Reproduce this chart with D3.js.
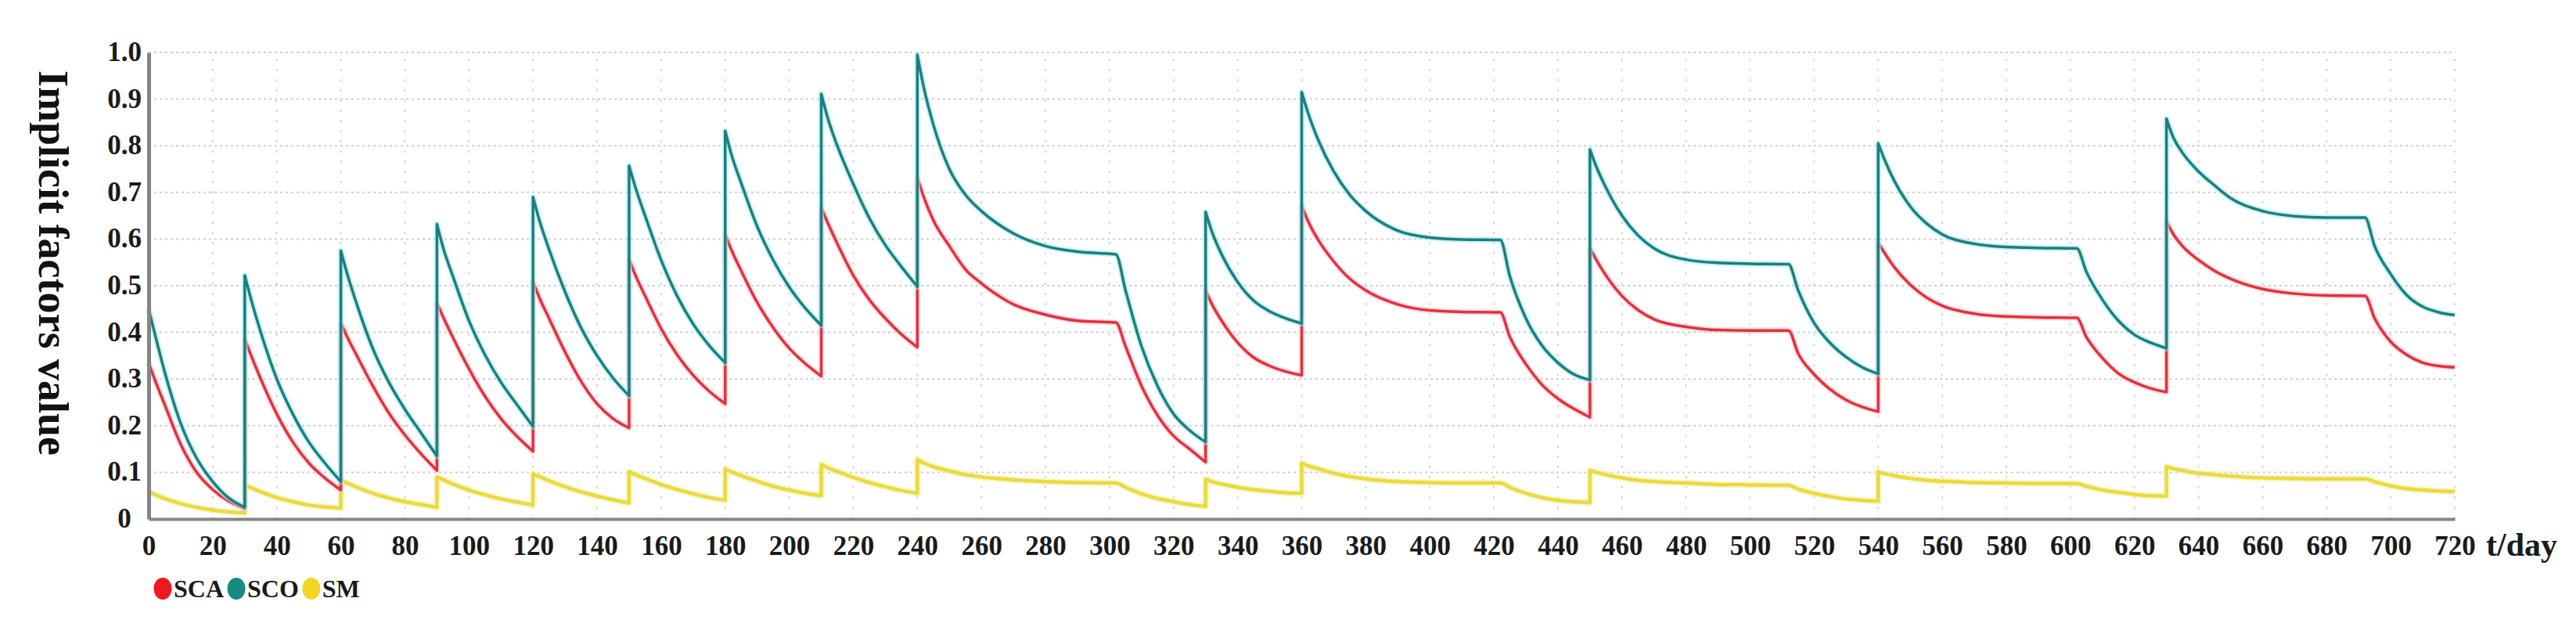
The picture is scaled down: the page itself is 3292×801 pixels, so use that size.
<!DOCTYPE html>
<html>
<head>
<meta charset="utf-8">
<script src="https://cdn.jsdelivr.net/npm/d3@7"></script>
<style>
  body { margin: 0; background: #fff; }
  text { font-family: "Liberation Serif", "Times New Roman", serif; font-weight: bold; }
</style>
</head>
<body>
<svg id="chart"></svg>
<script>
const width = 3292;
const height = 801;

// sample days; a repeated day marks a jump
const days = [
  0, 2, 5, 10, 15, 20, 25, 30,
  30, 32, 35, 40, 45, 50, 55, 60,
  60, 62, 65, 70, 75, 80, 85, 90,
  90, 92, 95, 100, 105, 110, 115, 120,
  120, 122, 125, 130, 135, 140, 145, 150,
  150, 152, 155, 160, 165, 170, 175, 180,
  180, 182, 185, 190, 195, 200, 205, 210,
  210, 212, 215, 220, 225, 230, 235, 240,
  240, 242, 245, 250, 255, 260, 270, 280, 290, 302, 305, 310, 315, 320, 325, 330,
  330, 332, 335, 340, 345, 350, 355, 360,
  360, 362, 365, 370, 375, 380, 390, 400, 410, 422, 425, 430, 435, 440, 445, 450,
  450, 452, 455, 460, 465, 470, 480, 490, 500, 512, 515, 520, 525, 530, 535, 540,
  540, 542, 545, 550, 555, 560, 570, 580, 590, 602, 605, 610, 615, 620, 625, 630,
  630, 632, 635, 640, 645, 650, 660, 670, 680, 692, 695, 700, 705, 710, 715, 720
];

const sca = [
  0.335, 0.297, 0.245, 0.16, 0.10, 0.063, 0.038, 0.022,
  0.385, 0.35, 0.30, 0.225, 0.165, 0.12, 0.088, 0.062,
  0.42, 0.39, 0.35, 0.285, 0.227, 0.18, 0.14, 0.104,
  0.463, 0.432, 0.389, 0.322, 0.263, 0.215, 0.177, 0.145,
  0.508, 0.474, 0.43, 0.358, 0.295, 0.247, 0.215, 0.195,
  0.556, 0.522, 0.478, 0.408, 0.352, 0.308, 0.274, 0.247,
  0.61, 0.576, 0.532, 0.464, 0.41, 0.366, 0.333, 0.306,
  0.667, 0.635, 0.59, 0.522, 0.47, 0.43, 0.396, 0.368,
  0.732, 0.69, 0.64, 0.585, 0.535, 0.505, 0.46, 0.438, 0.425, 0.421, 0.37, 0.285, 0.222, 0.178, 0.15, 0.122,
  0.49, 0.46, 0.425, 0.378, 0.346, 0.328, 0.316, 0.308,
  0.672, 0.638, 0.6, 0.552, 0.515, 0.49, 0.46, 0.447, 0.444, 0.443, 0.39, 0.332, 0.288, 0.258, 0.236, 0.218,
  0.581, 0.555, 0.522, 0.478, 0.448, 0.428, 0.412, 0.405, 0.404, 0.404, 0.355, 0.31, 0.278, 0.255, 0.24, 0.23,
  0.592, 0.57, 0.54, 0.502, 0.475, 0.457, 0.44, 0.434, 0.432, 0.431, 0.39, 0.345, 0.312, 0.293, 0.28, 0.272,
  0.638, 0.612, 0.585, 0.555, 0.532, 0.515, 0.493, 0.483, 0.479, 0.478, 0.43, 0.38, 0.352, 0.335, 0.328, 0.325
];

const sco = [
  0.45, 0.395, 0.315, 0.205, 0.13, 0.08, 0.045, 0.025,
  0.522, 0.47, 0.40, 0.30, 0.225, 0.165, 0.12, 0.08,
  0.575, 0.525, 0.46, 0.365, 0.293, 0.235, 0.185, 0.135,
  0.632, 0.58, 0.52, 0.425, 0.352, 0.293, 0.245, 0.198,
  0.69, 0.64, 0.578, 0.487, 0.41, 0.35, 0.302, 0.264,
  0.757, 0.71, 0.65, 0.555, 0.478, 0.418, 0.372, 0.335,
  0.832, 0.78, 0.72, 0.627, 0.555, 0.497, 0.452, 0.415,
  0.911, 0.86, 0.80, 0.718, 0.645, 0.587, 0.541, 0.498,
  0.995, 0.925, 0.845, 0.75, 0.695, 0.66, 0.612, 0.585, 0.573, 0.567, 0.49, 0.37, 0.285, 0.225, 0.19, 0.165,
  0.658, 0.615, 0.567, 0.508, 0.468, 0.445, 0.43, 0.419,
  0.915, 0.87, 0.815, 0.745, 0.695, 0.66, 0.618, 0.603, 0.599, 0.598, 0.52, 0.43, 0.372, 0.335, 0.31, 0.298,
  0.792, 0.755, 0.71, 0.65, 0.608, 0.58, 0.556, 0.549, 0.547, 0.546, 0.49, 0.42, 0.377, 0.347, 0.325, 0.311,
  0.805, 0.77, 0.725, 0.67, 0.634, 0.61, 0.59, 0.583, 0.581, 0.58, 0.53, 0.47, 0.425, 0.395, 0.378, 0.366,
  0.858, 0.82, 0.785, 0.745, 0.715, 0.688, 0.66, 0.649, 0.646, 0.646, 0.585, 0.525, 0.48, 0.455, 0.443, 0.437
];

const sm = [
  0.059, 0.052, 0.044, 0.033, 0.025, 0.019, 0.015, 0.013,
  0.073, 0.067, 0.058, 0.046, 0.037, 0.030, 0.026, 0.023,
  0.083, 0.077, 0.068, 0.055, 0.045, 0.037, 0.031, 0.025,
  0.09, 0.084, 0.075, 0.062, 0.052, 0.043, 0.036, 0.03,
  0.097, 0.091, 0.082, 0.069, 0.058, 0.049, 0.041, 0.034,
  0.101, 0.095, 0.087, 0.074, 0.063, 0.054, 0.046, 0.040,
  0.107, 0.101, 0.093, 0.081, 0.07, 0.062, 0.055, 0.05,
  0.117, 0.11, 0.102, 0.089, 0.078, 0.069, 0.061, 0.055,
  0.127, 0.12, 0.112, 0.103, 0.095, 0.09, 0.084, 0.08, 0.078, 0.077, 0.068, 0.054, 0.044, 0.037, 0.031, 0.027,
  0.085, 0.08, 0.075, 0.068, 0.063, 0.059, 0.056, 0.055,
  0.12, 0.114, 0.108, 0.098, 0.091, 0.086, 0.08, 0.078, 0.077, 0.077, 0.068, 0.055, 0.046, 0.04, 0.037, 0.035,
  0.104, 0.1, 0.095, 0.088, 0.083, 0.08, 0.077, 0.074, 0.073, 0.072, 0.064, 0.055, 0.048, 0.043, 0.04, 0.038,
  0.101, 0.097, 0.093, 0.087, 0.083, 0.081, 0.078, 0.077, 0.076, 0.076, 0.07, 0.062, 0.057, 0.053, 0.05, 0.049,
  0.112, 0.108, 0.104, 0.098, 0.095, 0.092, 0.088, 0.087, 0.086, 0.086, 0.08, 0.071, 0.065, 0.062, 0.06, 0.059
];

const seriesNames = ["SCA", "SCO", "SM"];
const xTicks = d3.range(0, 721, 20);
const yTicks = d3.range(0, 11).map(d => d / 10);

const svg = d3.select("svg#chart")
  .attr("width", width)
  .attr("height", height);

svg.append("rect").attr("width", width).attr("height", height).attr("fill", "#fff");

const x = d3.scaleLinear().domain([0, 720]).range([190, 3137]);
const y = d3.scaleLinear().domain([0, 1]).range([663, 67]);

// grid
const grid = svg.append("g").attr("id", "grid");
grid.selectAll("line.h")
  .data(yTicks.slice(1))
  .enter().append("line")
    .attr("class", "h")
    .attr("x1", x(0)).attr("x2", x(720))
    .attr("y1", d => y(d)).attr("y2", d => y(d))
    .attr("stroke", "#cfcfcf")
    .attr("stroke-width", 2)
    .attr("stroke-dasharray", "3,4");
grid.selectAll("line.v")
  .data(xTicks.slice(1))
  .enter().append("line")
    .attr("class", "v")
    .attr("x1", d => x(d)).attr("x2", d => x(d))
    .attr("y1", y(0)).attr("y2", y(1))
    .attr("stroke", "#d6d6d6")
    .attr("stroke-width", 2)
    .attr("stroke-dasharray", "3,10");

// lines: each jump (repeated day) starts a new smooth piece joined by a straight stroke
const line = d3.line()
  .x(d => x(d[0]))
  .y(d => y(d[1]))
  .curve(d3.curveMonotoneX);

function pathFor(vals) {
  const segs = [];
  days.forEach((d, i) => {
    if (i === 0 || d === days[i - 1]) segs.push([]);
    segs[segs.length - 1].push([d, vals[i]]);
  });
  return segs.map((s, k) => {
    const p = line(s);
    return k ? "L" + p.slice(1) : p;
  }).join("");
}

const series = [
  {name: "SM", vals: sm, color: "#e9da3f", halo: "#f7f0a8", w: 4.5},
  {name: "SCA", vals: sca, color: "#e0323e", halo: "#ffc4cc", w: 3.5},
  {name: "SCO", vals: sco, color: "#1f7d7e", halo: "#9feff0", w: 3.5}
];

const lines = svg.append("g").attr("id", "lines");
series.forEach(s => {
  const p = pathFor(s.vals);
  lines.append("path")
    .attr("d", p)
    .attr("fill", "none")
    .attr("stroke", s.halo)
    .attr("stroke-width", s.w + 4)
    .attr("stroke-opacity", 0.6)
    .attr("stroke-linejoin", "round");
  lines.append("path")
    .attr("d", p)
    .attr("fill", "none")
    .attr("stroke", s.color)
    .attr("stroke-width", s.w)
    .attr("stroke-linejoin", "round");
});

// axes
const xAxis = svg.append("g")
  .attr("id", "xAxis")
  .attr("transform", "translate(0," + y(0) + ")")
  .call(d3.axisBottom(x).tickValues(xTicks).tickSize(0).tickSizeOuter(0).tickPadding(21));
xAxis.select(".domain").attr("stroke", "#858585").attr("stroke-width", 4);
xAxis.selectAll("text")
  .attr("font-family", "Liberation Serif, serif")
  .attr("font-weight", "bold")
  .attr("font-size", 35)
  .attr("fill", "#1a1a1a");

const yAxis = svg.append("g")
  .attr("id", "yAxis")
  .attr("transform", "translate(" + x(0) + ",0)")
  .call(d3.axisLeft(y).tickValues(yTicks).tickSize(0).tickSizeOuter(0)
    .tickFormat(d => d === 0 ? "0" : d3.format(".1f")(d)));
yAxis.select(".domain").attr("stroke", "#858585").attr("stroke-width", 5);
yAxis.selectAll("text")
  .attr("x", -31)
  .attr("dy", "0.3em")
  .attr("text-anchor", "middle")
  .attr("font-family", "Liberation Serif, serif")
  .attr("font-weight", "bold")
  .attr("font-size", 35)
  .attr("fill", "#1a1a1a");

svg.append("text")
  .attr("x", 3177)
  .attr("y", 710)
  .attr("font-size", 42)
  .attr("fill", "#1a1a1a")
  .text("t/day");

svg.append("text")
  .attr("transform", "translate(50,336) rotate(90)")
  .attr("text-anchor", "middle")
  .attr("font-size", 54)
  .attr("fill", "#111")
  .text("Implicit factors value");

// legend
const legendColors = {SCA: "#f01820", SCO: "#178a82", SM: "#f3d623"};
const legend = svg.append("g").attr("id", "legend");
let lx = 197;
seriesNames.forEach(n => {
  legend.append("ellipse")
    .attr("cx", lx + 11).attr("cy", 752)
    .attr("rx", 11.5).attr("ry", 14)
    .attr("fill", legendColors[n]);
  const t = legend.append("text")
    .attr("x", lx + 25).attr("y", 763)
    .attr("font-size", 32)
    .attr("fill", "#1a1a1a")
    .text(n);
  lx = lx + 25 + t.node().getComputedTextLength() + 5;
});
</script>
</body>
</html>
